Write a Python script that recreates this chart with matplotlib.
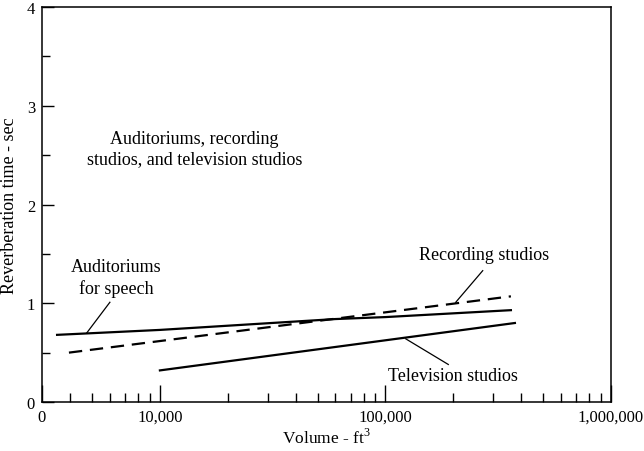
import matplotlib
matplotlib.use("Agg")
import matplotlib.pyplot as plt
from matplotlib.ticker import FixedLocator, NullFormatter

plt.rcParams['font.family'] = ['Liberation Serif', 'DejaVu Serif']
plt.rcParams['font.size'] = 12
plt.rcParams['mathtext.fontset'] = 'custom'
plt.rcParams['mathtext.rm'] = 'Liberation Serif'

# Data (volume in ft^3, reverberation time in sec)
aud_vol = [3500, 10000, 60000, 100000, 360000]
aud_rt = [0.68, 0.73, 0.84, 0.86, 0.93]
rec_vol = [3950, 360000]
rec_rt = [0.50, 1.07]
tv_vol = [10000, 375000]
tv_rt = [0.32, 0.80]

x_major = [3000, 10000, 100000, 1000000]
x_labels = ['0', '10,000', '100,000', '1,000,000']
x_minor = [4000, 5000, 6000, 7000, 8000, 9000] + \
          [i * 10000 for i in range(2, 10)] + [i * 100000 for i in range(2, 10)]
y_major = [0, 1, 2, 3, 4]
y_minor = [0.5, 1.5, 2.5, 3.5]

fig = plt.figure(figsize=(6.44, 4.52), dpi=100)
ax = fig.add_axes([0.0652, 0.1084, 0.8835, 0.8739])

ax.plot(aud_vol, aud_rt, color='black', lw=1.6)
ax.plot(rec_vol, rec_rt, color='black', lw=1.6, dashes=(6, 3.5))
ax.plot(tv_vol, tv_rt, color='black', lw=1.6)

ax.set_xscale('log')
ax.set_xlim(3000, 1000000)
ax.set_ylim(0, 4)

ax.xaxis.set_major_locator(FixedLocator(x_major))
ax.set_xticklabels(x_labels)
ax.xaxis.set_minor_locator(FixedLocator(x_minor))
ax.xaxis.set_minor_formatter(NullFormatter())
ax.set_yticks(y_major)
ax.yaxis.set_minor_locator(FixedLocator(y_minor))

ax.tick_params(axis='x', which='major', direction='in', length=12.5, width=1, pad=5)
ax.tick_params(axis='x', which='minor', direction='in', length=6.5, width=1)
ax.tick_params(axis='y', which='major', direction='in', length=8.5, width=1, pad=5)
ax.tick_params(axis='y', which='minor', direction='in', length=6, width=1)
for s in ax.spines.values():
    s.set_linewidth(1.1)

ax.set_xlabel('Volume - ft$^{3}$', fontsize=12.5, labelpad=2)
ax.set_ylabel('Reverberation time - sec', fontsize=13, labelpad=6)

# Annotations
txt = dict(ha='center', va='center', fontsize=13, linespacing=1.25)
leader = dict(color='black', lw=0.9)

ax.text(14200, 2.57, 'Auditoriums, recording\nstudios, and television studios', **txt)

ax.text(6400, 1.26, 'Auditoriums\nfor speech', **txt)
ax.plot([6000, 4740], [1.01, 0.70], **leader)

ax.text(273000, 1.49, 'Recording studios', **txt)
ax.plot([270000, 205000], [1.33, 1.01], **leader)

ax.text(199000, 0.27, 'Television studios', **txt)
ax.plot([190000, 123000], [0.38, 0.64], **leader)

fig.savefig('out.png', dpi=100)
